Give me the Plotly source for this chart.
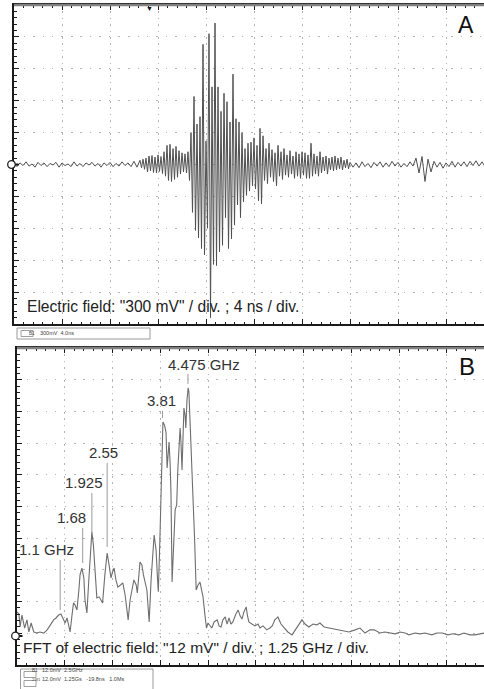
import numpy as np
import plotly.graph_objects as go

# ---------------- Panel A: electric field vs time (mV, ns) ----------------
a_pre_t0, a_pre_dt = 0.0, 0.25
a_pre_mv = [10, -20, 15, -10, 25, -15, 5, -25, 20, -10,
            15, -20, 10, -5, 20, -25, 15, -10, 5, -20,
            25, -15, 10, -20, 15, -5, 20, -15, 10, -25,
            15, -10, 20, -20, 10, -15, 25, -10, 15, -20,
            30, -25]
a_burst_t0, a_burst_dt = 10.5, 0.125
a_burst_mv = [40, -30, 50, -45, 60, -70, 80, -60, 85, -75,
              70, -80, 90, -65, 75, -85, 120, -110, 180, -150,
              190, -160, 150, -140, 170, -120, 130, -90, 110, -70,
              100, -80, 120, -150, 300, -450, 640, -620, 380, -690,
              450, -790, 1130, -850, 220, -600, 1230, -1440, 730, -940,
              1330, -950, 730, -820, 500, -760, 670, -500, 590, -790,
              400, -700, 850, -570, 430, -380, 400, -500, 300, -350,
              150, -290, 200, -250, 210, -200, 250, -230, 180, -340,
              340, -370, 270, -150, 150, -180, 200, -120, 140, -160,
              110, -200, 180, -110, 120, -140, 150, -100, 90, -120,
              130, -90, 80, -130, 120, -110, 100, -130, 120, -100,
              110, -130, 90, -130, 200, -110, 100, -90, 80, -110,
              120, -80, 70, -60, 80, -90, 60, -50, 70, -60,
              80, -50, 60, -40, 70, -50, 40, -30, 50, -40]
a_tail_t0, a_tail_dt = 28.0, 0.25
a_tail_mv = [20, -25, 15, -30, 25, -20, 10, -30, 20, -15, 25, -25, 15, -20, 30, -15, 20, -25, 10, -20, 25, -15,
             60, -80, 75, -160, 50, -70,
             30, -25, 20, -35, 15, -20, 30, -25, 20, -15, 25, -20, 30, -10, 35, -15, 25, -20]

# ---------------- Panel B: FFT magnitude (mV) vs frequency (GHz) ----------------
fft_ghz = [0.00, 0.05, 0.08, 0.13, 0.20, 0.26, 0.31, 0.37, 0.44, 0.52, 0.60, 0.70, 0.79, 0.86, 0.96,
           1.02, 1.09, 1.15, 1.20, 1.26, 1.31, 1.39, 1.44, 1.48, 1.52, 1.57, 1.62, 1.65, 1.70, 1.75,
           1.78, 1.83, 1.88, 1.92, 1.96, 2.00, 2.04, 2.09, 2.15, 2.20, 2.24, 2.30, 2.36, 2.41, 2.46,
           2.50, 2.54, 2.59, 2.64, 2.71, 2.77, 2.83, 2.91, 2.96, 3.01, 3.06, 3.12, 3.15, 3.22, 3.27,
           3.31, 3.35, 3.40, 3.46, 3.51, 3.59, 3.64, 3.68, 3.70, 3.74, 3.78, 3.82, 3.86, 3.90, 3.93,
           3.95, 3.98, 4.01, 4.03, 4.06, 4.08, 4.11, 4.14, 4.18, 4.21, 4.27, 4.29, 4.32, 4.35, 4.37,
           4.40, 4.42, 4.45, 4.48, 4.50, 4.53, 4.57, 4.61, 4.65, 4.69, 4.74, 4.79, 4.83, 4.87, 4.92,
           4.96, 5.00, 5.05, 5.10, 5.16, 5.24, 5.29, 5.34, 5.39, 5.45, 5.50, 5.55, 5.60, 5.65, 5.73,
           5.79, 5.84, 5.89, 5.94, 6.00, 6.03, 6.07, 6.15, 6.23, 6.31, 6.36, 6.44, 6.54, 6.62, 6.68,
           6.75, 6.83, 6.91, 6.99, 7.09, 7.20, 7.28, 7.33, 7.41, 7.46, 7.54, 7.64, 7.75, 7.85, 7.93,
           8.04, 8.17, 8.30, 8.43, 8.56, 8.69, 8.85, 8.98, 9.11, 9.24, 9.35, 9.50, 9.63, 9.74, 9.90,
           10.03, 10.16, 10.26, 10.42, 10.55, 10.68, 10.86, 10.99, 11.13, 11.28, 11.41, 11.57, 11.70,
           11.86, 11.99, 12.12, 12.23]
fft_mv = [9.1, 8.3, 3.4, 7.9, 3.0, 6.1, 1.5, 4.9, 1.5, 1.1, 1.5, 1.1, 2.3, 3.8, 6.1,
          6.8, 7.9, 8.3, 6.8, 4.9, 6.8, 1.5, 7.9, 12.5, 11.7, 9.8, 17.4, 23.1, 25.7, 22.0,
          13.6, 8.7, 21.2, 32.6, 39.4, 34.4, 25.0, 14.4, 14.8, 13.6, 12.5, 23.1, 31.4, 26.9, 22.0,
          24.2, 25.7, 21.2, 18.5, 19.3, 20.1, 15.5, 6.1, 13.6, 17.4, 21.2, 19.3, 16.3, 28.0, 26.9,
          23.1, 20.4, 17.4, 5.3, 21.2, 38.2, 32.6, 21.2, 16.7, 36.3, 62.8, 81.0, 79.9, 77.2, 63.6,
          68.5, 73.4, 64.7, 54.5, 20.4, 28.8, 40.1, 47.7, 49.6, 62.8, 78.7, 74.2, 62.8, 78.0, 86.3,
          83.6, 78.7, 89.3, 93.9, 92.4, 81.8, 66.6, 54.1, 36.3, 17.4, 19.3, 20.4, 17.4, 14.8, 7.9,
          3.0, 4.9, 3.8, 3.0, 5.3, 6.1, 3.8, 3.4, 6.1, 7.2, 4.5, 6.8, 4.5, 5.3, 8.3,
          9.8, 7.6, 6.4, 9.1, 11.0, 7.9, 5.3, 4.5, 3.8, 4.5, 3.0, 3.8, 2.3, 3.0, 3.8,
          6.1, 7.2, 4.5, 3.0, 1.5, 0.4, 2.3, 3.4, 4.9, 6.1, 4.5, 3.4, 4.5, 4.2, 4.9,
          3.4, 3.0, 2.6, 2.3, 1.9, 1.5, 2.3, 3.0, 1.1, 2.3, 2.3, 1.1, 1.5, 1.1, 0.8,
          1.5, 1.1, 0.4, 1.1, 0.8, 1.1, 0.4, 1.1, 1.1, 0.4, 0.8, 0.4, 1.1,
          0.4, 0.4, 0.8, 1.1]

peak_labels = ["4.475 GHz", "3.81", "2.55", "1.925", "1.68", "1.1 GHz"]

panel_a_caption = 'Electric field: "300 mV" / div. ; 4 ns / div.'
panel_b_caption = 'FFT of electric field: "12 mV" / div. ; 1.25 GHz / div.'

# ------------------------------------------------------------------
W, H = 484, 689
FONT = "Liberation Sans, Arial, sans-serif"


def px(x):
    return x / W


def py(y):
    return 1 - y / H


t_ns = np.concatenate([
    a_pre_t0 + a_pre_dt * np.arange(len(a_pre_mv)),
    a_burst_t0 + a_burst_dt * np.arange(len(a_burst_mv)),
    a_tail_t0 + a_tail_dt * np.arange(len(a_tail_mv)),
])
a_mv = a_pre_mv + a_burst_mv + a_tail_mv

fig = go.Figure()
fig.add_trace(go.Scatter(x=t_ns, y=a_mv, mode="lines",
                         line=dict(color="#505050", width=1),
                         xaxis="x", yaxis="y", hoverinfo="skip"))
fig.add_trace(go.Scatter(x=fft_ghz, y=fft_mv, mode="lines",
                         line=dict(color="#6e6e6e", width=1.1),
                         xaxis="x2", yaxis="y2", hoverinfo="skip"))

GRID = "#b4b4b4"
AX = "#1a1a1a"


def xax(domain, rng, dt, anchor):
    return dict(domain=domain, range=rng, anchor=anchor, tick0=0, dtick=dt,
                showticklabels=False, ticks="inside", ticklen=5, tickwidth=1,
                tickcolor=AX, showline=True, linecolor=AX, linewidth=2,
                mirror="ticks", showgrid=True, gridcolor=GRID, gridwidth=1,
                griddash="1.5px,4.9px", zeroline=False, fixedrange=True,
                minor=dict(dtick=dt / 5, ticks="inside", ticklen=2.5,
                           tickcolor=AX, tickwidth=1, showgrid=False))


def yax(domain, rng, t0, dt, anchor):
    return dict(domain=domain, range=rng, anchor=anchor, tick0=t0, dtick=dt,
                showticklabels=False, ticks="inside", ticklen=5, tickwidth=1,
                tickcolor=AX, showline=True, linecolor=AX, linewidth=2,
                mirror=False, showgrid=True, gridcolor=GRID, gridwidth=1,
                griddash="1.5px,8px", zeroline=False, fixedrange=True,
                minor=dict(tick0=t0, dtick=dt / 5, ticks="inside", ticklen=2.5,
                           tickcolor=AX, tickwidth=1, showgrid=False))


fig.update_layout(
    width=W, height=H, margin=dict(l=0, r=0, t=0, b=0),
    paper_bgcolor="white", plot_bgcolor="white", showlegend=False,
    font=dict(family=FONT, color="#222"),
    xaxis=xax([px(14), 1], [0, 470 / 12], 4, "y"),
    yaxis=yax([py(324), py(5)], [-1500, 1500], 0, 300, "x"),
    xaxis2=xax([px(17), 1], [0, 467 / 38.2], 1.25, "y2"),
    yaxis2=yax([py(665), py(348)], [-11, 109], 1, 12, "x2"),
)

shapes = []
ann = []

# gray top frame lines
shapes.append(dict(type="line", xref="paper", yref="paper", x0=px(14), x1=1,
                   y0=py(5), y1=py(5), line=dict(color="#808080", width=2.5)))
shapes.append(dict(type="line", xref="paper", yref="paper", x0=px(17), x1=1,
                   y0=py(348), y1=py(348), line=dict(color="#808080", width=2.5)))

# channel reference markers (circles on left edge at zero level)
for xc, yref in [(11.5, "y"), (15.5, "y2")]:
    shapes.append(dict(type="line", xref="paper", yref=yref, x0=px(xc), x1=px(xc + 7),
                       y0=0, y1=0, line=dict(color="#111", width=2)))
    shapes.append(dict(type="circle", xref="paper", yref=yref, ysizemode="pixel",
                       yanchor=0, y0=-3.8, y1=3.8, x0=px(xc - 3.8), x1=px(xc + 3.8),
                       fillcolor="white", line=dict(color="#222", width=1.3)))

# trigger marker on top of panel A
ann.append(dict(xref="x", yref="paper", x=11.25, y=py(3.5), text="▼", showarrow=False,
                yanchor="top", font=dict(size=7, color="#111")))

# captions
ann.append(dict(xref="paper", yref="paper", x=px(25), y=py(306), text=panel_a_caption,
                showarrow=False, xanchor="left", yanchor="middle",
                font=dict(size=15.6, color="#222", family=FONT)))
ann.append(dict(xref="paper", yref="paper", x=px(21), y=py(647.5), text=panel_b_caption,
                showarrow=False, xanchor="left", yanchor="middle",
                font=dict(size=15.5, color="#222", family=FONT)))

# panel letters
ann.append(dict(xref="paper", yref="paper", x=px(466), y=py(25), text="A", showarrow=False,
                xanchor="center", yanchor="middle", font=dict(size=23, color="#111", family=FONT)))
ann.append(dict(xref="paper", yref="paper", x=px(467), y=py(366), text="B", showarrow=False,
                xanchor="center", yanchor="middle", font=dict(size=24, color="#111", family=FONT)))

# peak labels and leader lines (label x, label y in data units; line x, line y0..y1)
label_pos = [(4.90, 102.6), (3.78, 89.3), (2.26, 69.6), (1.75, 57.9), (1.43, 44.9), (0.78, 32.6)]
leader = [(4.475, 95.4, 99.2), (3.81, 82.5, 85.2), (2.36, 33.7, 65.5),
          (1.96, 39.0, 54.1), (1.72, 27.6, 40.9), (1.13, 9.8, 28.8)]
for lab, (lx, ly), (fx, y0, y1) in zip(peak_labels, label_pos, leader):
    ann.append(dict(xref="x2", yref="y2", x=lx, y=ly, text=lab, showarrow=False,
                    xanchor="center", yanchor="middle",
                    font=dict(size=15, color="#333", family=FONT)))
    shapes.append(dict(type="line", xref="x2", yref="y2", x0=fx, x1=fx, y0=y0, y1=y1,
                       line=dict(color="#9a9a9a", width=1)))

# scope status boxes under each panel
shapes.append(dict(type="rect", xref="paper", yref="paper", x0=px(17), x1=px(150),
                   y0=py(339), y1=py(328), line=dict(color="#9a9a9a", width=1)))
shapes.append(dict(type="rect", xref="paper", yref="paper", x0=px(21), x1=px(33),
                   y0=py(336.5), y1=py(330.5), line=dict(color="#888", width=0.8)))
ann.append(dict(xref="paper", yref="paper", x=px(27), y=py(333.5), text="B1", showarrow=False,
                font=dict(size=4.5, color="#444")))
ann.append(dict(xref="paper", yref="paper", x=px(38), y=py(333.5), text="300mV  4.0ns",
                showarrow=False, xanchor="left", font=dict(size=5.5, color="#444")))

shapes.append(dict(type="rect", xref="paper", yref="paper", x0=px(20.5), x1=px(153),
                   y0=py(692), y1=py(669), line=dict(color="#9a9a9a", width=1)))
shapes.append(dict(type="rect", xref="paper", yref="paper", x0=px(24), x1=px(36),
                   y0=py(677.5), y1=py(671.5), line=dict(color="#888", width=0.8)))
shapes.append(dict(type="rect", xref="paper", yref="paper", x0=px(24), x1=px(36),
                   y0=py(686.5), y1=py(680.5), line=dict(color="#888", width=0.8)))
ann.append(dict(xref="paper", yref="paper", x=px(30), y=py(674.5), text="B1", showarrow=False,
                font=dict(size=4.5, color="#444")))
ann.append(dict(xref="paper", yref="paper", x=px(30), y=py(683.5), text="2:B1", showarrow=False,
                font=dict(size=4, color="#444")))
ann.append(dict(xref="paper", yref="paper", x=px(40), y=py(674.5), text="12.0mV  2.5GHz",
                showarrow=False, xanchor="left", font=dict(size=5.5, color="#444")))
ann.append(dict(xref="paper", yref="paper", x=px(40), y=py(683.5),
                text="12.0mV  1.25Gs   -19.8ns   1.0Ms",
                showarrow=False, xanchor="left", font=dict(size=5.5, color="#444")))

fig.update_layout(shapes=shapes, annotations=ann)
fig.write_html("out.html", config={"displayModeBar": False},
               post_script="document.body.style.margin='0';document.body.style.overflow='hidden';")
